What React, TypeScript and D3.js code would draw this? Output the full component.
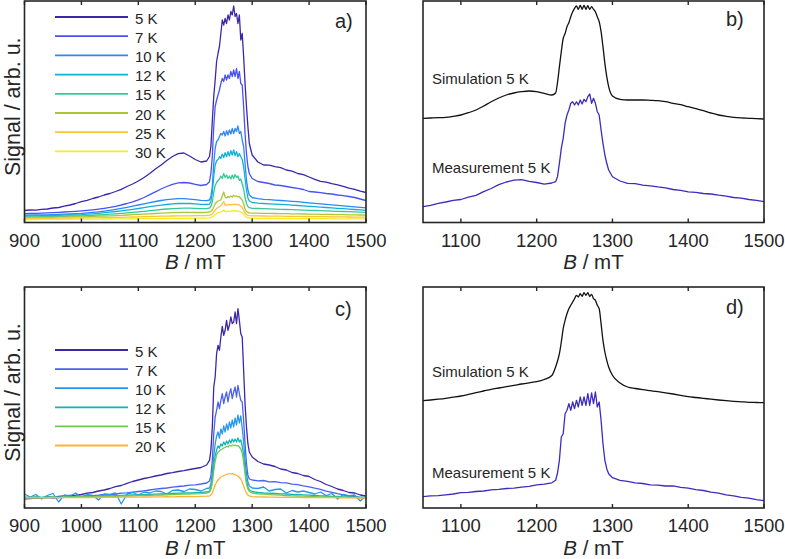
import React from 'react';
import * as d3 from 'd3';

const FONT = '"Liberation Sans", Arial, Helvetica, sans-serif';
const INK = '#262626';

// Magnetic field grids (mT)
const B_AC = [900,910,920,930,940,950,960,970,980,990,1000,1010,1020,1030,1040,1050,1060,1070,1080,1090,1100,1110,1120,1130,1140,1150,1160,1170,1180,1190,1200,1210,1220,
  1225,1227.5,1230,1232.5,1235,1237.5,1240,1242.5,1245,1247.5,1250,1252.5,1255,1257.5,1260,1262.5,1265,1267.5,1270,1272.5,1275,1277.5,1280,1282.5,1285,1287.5,1290,1292.5,1295,
  1300,1310,1320,1330,1340,1350,1360,1370,1380,1390,1400,1410,1420,1430,1440,1450,1460,1470,1480,1490,1500];
const B_BD = [1050,1060,1070,1080,1090,1100,1110,1120,1130,1140,1150,1160,1170,1180,1190,1200,1210,1220,
  1225,1227.5,1230,1232.5,1235,1237.5,1240,1242.5,1245,1247.5,1250,1252.5,1255,1257.5,1260,1262.5,1265,1267.5,1270,1272.5,1275,1277.5,1280,1282.5,1285,1287.5,1290,1292.5,1295,
  1300,1310,1320,1330,1340,1350,1360,1370,1380,1390,1400,1410,1420,1430,1440,1450,1460,1470,1480,1490,1500];

const TICKS_AC = [900, 1000, 1100, 1200, 1300, 1400, 1500];
const TICKS_BD = [1100, 1200, 1300, 1400, 1500];

// Panel a) temperature series
const LABELS_A = ['5 K', '7 K', '10 K', '12 K', '15 K', '20 K', '25 K', '30 K'];
const COLORS_A = ['#3e26a8', '#4852f4', '#2d87f7', '#11b1d6', '#37c897', '#abc739', '#fec338', '#f2ef1a'];

const A_5K = [12,12.5,12.3,13.2,13.5,14.5,15,16.3,17.5,19,20.8,22.2,24,25.5,27.5,29,31,33.2,36,38.5,41.5,45,49,53.5,57.5,62,66,68.8,69.5,66.5,63,60.5,61.5,
  66,76,102,126,142.5,161,169,176,189,202.5,197.5,204,199,207.5,202.5,211,207.5,216.5,206,209,199,207.5,182.5,189,166,139,116,96,79,
  67.5,60.5,57.5,57.3,55.8,54.8,52.5,51.3,49,47.8,45.5,43.2,41.2,40.3,38.8,37.6,36.2,34.4,33.2,31.4,30];
const A_7K = [8.8,9,9.2,9.4,9.6,9.9,10.2,10.5,10.8,11.2,11.6,12.1,12.7,13.4,14.2,15.1,16.2,17.5,19,20.7,22.6,25,27.8,30.7,33.5,36,38.2,39.6,40,39.5,38.2,37,38,
  40.8,49,66,96,116,122.5,127.5,132.5,139,144,141,147.5,142.5,147.5,144,151,146,152.5,146,154,144,151,139,137.5,116,89,69,56,49,
  44,41,40,39,37.5,37,36,35,34.2,33,31,30.5,29.8,29,28.5,27.5,26.8,26,25,23.5,22];
const A_10K = [7.3,7.4,7.5,7.6,7.7,7.9,8.1,8.3,8.5,8.8,9.1,9.6,10.1,10.7,11.4,12.2,13.1,14.1,15.2,16.3,17.5,18.7,19.9,21,22,22.8,23.4,23.8,23.8,23.4,22.8,22.1,21.8,
  22.5,26,36,59,74,81,82.5,86,89,87.5,91,86.5,91.8,87.5,92.5,88.5,94,89,94,91,96.5,89,91,82.5,76,59,42.5,32.5,27.5,
  25,23.8,23.2,22.8,22.4,22,21.6,21.2,20.8,20.2,19.6,19.1,18.6,18.1,17.6,17.1,16.6,16.1,15.6,15.1,14.6];
const A_12K = [6.5,6.6,6.7,6.8,6.9,7,7.1,7.3,7.5,7.7,7.9,8.3,8.7,9.2,9.8,10.4,11,11.7,12.4,13.2,14,14.9,15.8,16.6,17.3,18,18.6,19,19.2,19,18.7,18.2,18,
  18.3,21.3,29.5,46,57.5,61.8,63,65.8,64,68.5,65,69.8,65.8,70.8,66.5,71.8,67.5,72.5,67,70.8,65.8,69,65.8,63,55.8,44,32.5,24.5,21.5,
  20,19.4,19,18.7,18.4,18.1,17.8,17.4,17,16.6,16.2,15.8,15.4,15,14.6,14.2,13.8,13.4,13,12.6,12.2];
const A_15K = [5.5,5.6,5.7,5.8,5.9,6,6.1,6.2,6.3,6.5,6.6,6.9,7.2,7.5,7.9,8.3,8.7,9.1,9.6,10.1,10.6,11.2,11.8,12.4,13,13.5,13.9,14.2,14.4,14.4,14.2,13.9,13.8,
  14.5,16,20.5,30,37,40,42,43.5,46.5,44,49,45,47.5,44,46.5,43.5,47.5,44,48,45,46.5,42,43.5,38.5,33.5,25,19,16,14.8,
  14.2,14,13.8,13.6,13.4,13.2,13,12.8,12.6,12.4,12.2,12,11.8,11.6,11.4,11.2,11,10.8,10.6,10.4,10.2];
const A_20K = [4.8,4.9,5,5,5.1,5.2,5.3,5.4,5.5,5.6,5.7,5.9,6.1,6.3,6.5,6.7,6.9,7.2,7.5,7.8,8.1,8.4,8.7,9,9.3,9.6,9.8,10,10.1,10.1,10,10,10.2,
  10.5,11.2,12.5,15.5,18.5,20.5,21.5,22,22.5,26.5,30.5,25.5,24.5,26,25,26.5,25.5,27,26,26.5,25.5,26,24,22.5,18.5,13.5,11,10,9.6,
  9.4,9.3,9.2,9.1,9,8.9,8.8,8.7,8.6,8.5,8.4,8.3,8.2,8.1,8,7.9,7.8,7.7,7.6,7.5,7.4];
const A_25K = [4,4,4.1,4.1,4.2,4.2,4.3,4.3,4.4,4.4,4.5,4.6,4.7,4.8,4.9,5,5.1,5.2,5.3,5.5,5.6,5.8,6,6.1,6.3,6.4,6.5,6.6,6.7,6.7,6.8,6.8,7,
  7.3,7.8,8.8,10.5,12.5,14,15,15.8,16.8,18.5,21,17.5,17.2,18,17.8,17.5,18.2,17.8,18.4,18,17.8,17.5,16.4,15,12.5,9.5,8,7.2,6.9,
  6.7,6.6,6.5,6.4,6.4,6.3,6.2,6.2,6.1,6,6,5.9,5.8,5.8,5.7,5.6,5.6,5.5,5.4,5.4,5.3];
const A_30K = [3,3,3,3.1,3.1,3.1,3.2,3.2,3.2,3.3,3.3,3.3,3.4,3.4,3.5,3.5,3.6,3.6,3.7,3.7,3.8,3.8,3.9,3.9,4,4,4.1,4.1,4.2,4.2,4.3,4.3,4.4,
  4.6,5,5.6,6.8,8,9,9.6,10,10.5,11.2,12.5,10.8,11,11.4,11.2,11.6,11.4,11.8,11.5,11.6,11.3,11.2,10.6,9.8,8.4,6.6,5.4,4.8,4.5,
  4.3,4.2,4.2,4.1,4.1,4,4,4,3.9,3.9,3.9,3.8,3.8,3.8,3.7,3.7,3.7,3.6,3.6,3.6,3.5];
const SERIES_A = [A_5K, A_7K, A_10K, A_12K, A_15K, A_20K, A_25K, A_30K];

// Panel c) temperature series
const LABELS_C = ['5 K', '7 K', '10 K', '12 K', '15 K', '20 K'];
const COLORS_C = ['#3e26a8', '#4a62f0', '#2797eb', '#12b5b5', '#6cca50', '#fbb43a'];

const C_5K = [9.5,10,10.5,10.2,11,10.7,11.5,12,12.5,12.8,13.5,14.8,15.5,17,18,19.5,21.3,22.5,24.7,26.5,28,29.5,30.7,32,33,34.5,35.3,36.5,37.3,38.5,39.5,40.5,43,
  47.7,57.7,81,121,131,154.3,162.7,157.7,171,181.7,172.7,177.7,187.7,177.7,182.7,191,184.3,186,196,184.3,199.3,187.7,174.3,171,137.7,104,81,64.3,56,
  51,46.5,44,43,41.5,39,38,35.5,34.5,32.5,31.5,28.5,26.5,23.5,21.5,19,17.5,15.5,15,13,12];
const C_7K = [9,9.5,9.8,10,10.3,10,10.5,11,11.2,11,11.5,12,12.3,12.8,13.5,13.2,14,14.8,15.2,15.8,16.5,17.2,18,18.8,19.5,20,20.8,21.5,22,22.8,23.2,24,25,
  27,32,47.7,74.3,91,97.7,106,99.3,107.7,114.3,104.3,111,116,106,114.3,119.3,109.3,116,121,111,122.7,114.3,107.7,106,87.7,64.3,44.3,32.7,29,
  28,27.2,27.5,26.2,26.4,25.3,25.2,23.8,23.4,22.2,21.2,19.8,18.7,16.8,15.7,14.3,13.2,12,11.7,10.6,10.5];
const C_10K = [14,11,13.5,9,12.5,14.5,6,13,12,15,10.5,13.5,12.5,8,14,13.5,15,4,14,15.5,13,16,15,17,16.5,14,17.5,18,16.5,19,18.5,17,19.5,
  20,24,35,52,64,72,76,70,79,74,82,76,84,78,86,80,88,81,90,83,93,85,92,80,66,48,34,26,22,
  20,19.5,21,17,18.5,19,15,17.5,16,17,15.5,14,16,12.5,14.5,9,13.5,12,13,7,12.5];
const C_12K = [10.5,10.8,11,10.7,11,11.2,10.9,11.2,11.4,11.3,11.6,11.8,11.7,12,12.2,12.1,12.4,12.6,12.8,13,13.2,13.4,13.6,13.8,14,14.3,14.5,14.8,15,15.2,15.4,15.6,16,
  17,20,28,42,52,58,62,60,64,62,66,63,67,64,68,65,69,66,69,66,70,66,68,62,52,38,27,21,18,
  16.5,15.5,15,14.8,14.5,14.2,14,13.7,13.4,13.1,12.8,12.5,12.2,12,11.7,11.5,11.2,11,10.8,10.6,10.5];
const C_15K = [10.5,10.6,10.5,10.7,10.6,10.8,10.7,10.9,10.8,11,11,11.1,11.2,11.3,11.4,11.5,11.6,11.8,12,12.1,12.3,12.5,12.6,12.8,13,13.2,13.4,13.6,13.8,14,14.2,14.4,14.8,
  15.8,18.5,25,37,47,53,56,57,58.5,59,60,60.5,61.5,61,62.5,62,63,62.5,63,62,62.5,61,59,55,46,34,24,19,16.5,
  15,14.2,13.8,13.4,13.1,12.8,12.5,12.2,12,11.8,11.6,11.4,11.2,11.1,11,10.9,10.8,10.7,10.6,10.5,10.5];
const C_20K = [10,10.3,10.1,10.4,10.2,10.5,10.3,10.6,10.4,10.6,10.5,10.7,10.5,10.8,10.6,10.8,10.7,10.9,10.8,11,10.9,11.1,11,11.2,11.1,11.3,11.2,11.4,11.3,11.5,11.4,11.6,11.8,
  12,13.2,15,19,23,26,28,29.5,31,31.5,32.5,33,33.5,34,34.5,34,34.5,33.5,33.5,32.5,32,30.5,29,26,22,18,15,13,12,
  11.3,11.1,11,10.8,10.9,10.7,10.8,10.6,10.7,10.5,10.6,10.4,10.5,10.3,10.4,10.2,10.3,10.1,10.2,10,10.1];
const SERIES_C = [C_5K, C_7K, C_10K, C_12K, C_15K, C_20K];

// Panels b) and d): simulation vs measurement at 5 K
const B_SIM = [104.2,104.5,104.8,105.2,106.2,107.5,109.8,112.5,116.5,120.8,124.5,127.5,129.5,130.8,131.5,130.8,129.2,127.5,
  129.5,140,155.8,170.8,184,189,195.8,199.8,205.8,210.8,214.2,216.5,213.2,217.2,213.2,217.2,213.2,216.8,213.2,215.8,213.2,210.8,205.8,200.8,190.8,175.8,159.2,145.8,135.8,
  126.5,123.2,122.5,122.5,122.5,122.2,121.8,120.8,119.2,117.8,115.8,113.8,111.8,109.5,107.5,106.2,105.2,104.6,104.2,103.8,103.5];
const B_MEAS = [15.8,17.2,19.2,20.5,22.2,23,25.3,27.2,30.8,34,37.8,40.5,42.3,42.8,41.2,40,38.3,39.5,
  40.8,45.8,59.2,74.2,84.2,99.2,107.5,112.5,119.2,120.8,117.5,120.8,117.5,122.5,118.5,123.2,120.8,125.8,128.5,119.2,124.2,119.2,110.8,107.5,92.5,79.2,67.5,59.2,52.5,
  45.8,41.5,39.2,38.8,37.3,36.7,35.6,34.7,33,32.2,30.6,30.2,29,28.5,27.3,26.4,25,24.4,23,22.2,20.8];
const D_SIM = [107.3,108,108.8,109.7,110.8,112,113.6,115.3,117,118.7,120,121.3,122.6,124,125.2,126.3,128.5,132.5,
  141,147,154.3,166,179.3,187.7,194.3,199.3,202.7,206,209.3,212.7,211,214.3,211.7,215.3,212.7,215.3,211.7,213.7,209.3,207.7,202.7,199.3,184.3,167.7,156,147.7,141,
  132.7,125,121,119.5,118.3,117.3,116.3,115.2,114,112.7,111.3,110.5,109.7,108.8,108,107.3,106.7,106.2,105.7,105.5,105.3];
const D_MEAS = [11.3,12.2,12.4,13.2,14,15.3,15.6,16.5,17,18.2,18.6,19.5,19.8,20.9,21.6,23.2,23.8,25.2,
  27.7,35,47.7,71,74.3,94.3,97.7,104.3,97.7,106,99.3,107.7,101,111,102.7,111,102.7,114.3,102.7,115,104.3,116,101,106,87.7,64.3,47.7,39.3,34.3,
  30.3,27.7,26.7,25.2,24.5,23.2,22.9,22,22.2,20.6,19.9,18.3,17.5,15.8,14.9,13.1,12.2,10.6,9.9,8.3,7.3];

const MEAS_COLOR = '#3b2cc0';
const SIM_COLOR = '#111111';

type Box = { x0: number; x1: number; y0: number; y1: number };
const BOX_A: Box = { x0: 24.5, x1: 366, y0: 1, y1: 222.5 };
const BOX_B: Box = { x0: 423, x1: 764, y0: 1, y1: 222.5 };
const BOX_C: Box = { x0: 24.5, x1: 366, y0: 287, y1: 508 };
const BOX_D: Box = { x0: 423, x1: 764, y0: 287, y1: 508 };

function Frame({ box, xs, ticks, tag, tagX, tagBase, ylabel, id, children }:
  { box: Box; xs: d3.ScaleLinear<number, number>; ticks: number[]; tag: string; tagX: number; tagBase: number; ylabel: boolean; id: string; children?: React.ReactNode }) {
  const { x0, x1, y0, y1 } = box;
  return (
    <g>
      <defs>
        <clipPath id={id}>
          <rect x={x0} y={y0} width={x1 - x0} height={y1 - y0} />
        </clipPath>
      </defs>
      <g clipPath={`url(#${id})`}>{children}</g>
      <rect x={x0} y={y0} width={x1 - x0} height={y1 - y0} fill="none" stroke={INK} strokeWidth={1.6} />
      {ticks.map(t => (
        <g key={t}>
          <line x1={xs(t)} x2={xs(t)} y1={y1} y2={y1 - 4} stroke={INK} strokeWidth={1.4} />
          <line x1={xs(t)} x2={xs(t)} y1={y0} y2={y0 + 4} stroke={INK} strokeWidth={1.4} />
          <text x={xs(t)} y={y1 + 24} textAnchor="middle" fontSize={18.5} fill={INK}>{t}</text>
        </g>
      ))}
      <text x={(x0 + x1) / 2} y={y1 + 46.5} textAnchor="middle" fontSize={20.5} fill={INK}>
        <tspan fontStyle="italic">B</tspan> / mT
      </text>
      <text x={tagX} y={tagBase} fontSize={20} fill={INK}>{tag}</text>
      {ylabel && (
        <text transform={`translate(19.5, ${(y0 + y1) / 2 - 5}) rotate(-90)`} textAnchor="middle" fontSize={21.5} fill={INK}>
          Signal / arb. u.
        </text>
      )}
    </g>
  );
}

function pathFor(B: number[], vals: number[], xs: d3.ScaleLinear<number, number>, ys: d3.ScaleLinear<number, number>, smooth = false) {
  const pts: [number, number][] = vals.map((v, i) => [B[i], v]);
  const gen = d3.line<[number, number]>().x(d => xs(d[0])).y(d => ys(d[1]));
  if (smooth) gen.curve(d3.curveMonotoneX);
  return gen(pts) || '';
}

export default function App() {
  const xa = d3.scaleLinear().domain([900, 1500]).range([BOX_A.x0, BOX_A.x1]);
  const ya = d3.scaleLinear().domain([0, BOX_A.y1 - BOX_A.y0]).range([BOX_A.y1, BOX_A.y0]);
  const xc = d3.scaleLinear().domain([900, 1500]).range([BOX_C.x0, BOX_C.x1]);
  const yc = d3.scaleLinear().domain([0, BOX_C.y1 - BOX_C.y0]).range([BOX_C.y1, BOX_C.y0]);
  const xb = d3.scaleLinear().domain([1050, 1500]).range([BOX_B.x0, BOX_B.x1]);
  const yb = d3.scaleLinear().domain([0, BOX_B.y1 - BOX_B.y0]).range([BOX_B.y1, BOX_B.y0]);
  const xd = d3.scaleLinear().domain([1050, 1500]).range([BOX_D.x0, BOX_D.x1]);
  const yd = d3.scaleLinear().domain([0, BOX_D.y1 - BOX_D.y0]).range([BOX_D.y1, BOX_D.y0]);

  return (
    <svg width={785} height={559} viewBox="0 0 785 559"
      style={{ position: 'absolute', left: 0, top: 0, display: 'block', background: '#fff' }}
      fontFamily={FONT}>
      <rect x={0} y={0} width={785} height={559} fill="#fff" />

      {/* a) */}
      <Frame box={BOX_A} xs={xa} ticks={TICKS_AC} tag="a)" tagX={335} tagBase={28} ylabel id="clipA">
        {SERIES_A.map((s, i) => (
          <path key={i} d={pathFor(B_AC, s, xa, ya)} fill="none" stroke={COLORS_A[i]} strokeWidth={1.3} strokeLinejoin="round" />
        ))}
      </Frame>
      {LABELS_A.map((l, i) => (
        <g key={l}>
          <line x1={55} x2={128} y1={17 + i * 19.2} y2={17 + i * 19.2} stroke={COLORS_A[i]} strokeWidth={1.8} />
          <text x={135} y={23.5 + i * 19.2} fontSize={15} fill={INK}>{l}</text>
        </g>
      ))}

      {/* b) */}
      <Frame box={BOX_B} xs={xb} ticks={TICKS_BD} tag="b)" tagX={726} tagBase={26} ylabel={false} id="clipB">
        <path d={pathFor(B_BD, B_SIM, xb, yb, true)} fill="none" stroke={SIM_COLOR} strokeWidth={1.3} />
        <path d={pathFor(B_BD, B_MEAS, xb, yb)} fill="none" stroke={MEAS_COLOR} strokeWidth={1.3} strokeLinejoin="round" />
      </Frame>
      <text x={432} y={84} fontSize={15} fill={INK}>Simulation 5 K</text>
      <text x={432} y={173} fontSize={15} fill={INK}>Measurement 5 K</text>

      {/* c) */}
      <Frame box={BOX_C} xs={xc} ticks={TICKS_AC} tag="c)" tagX={335} tagBase={316} ylabel id="clipC">
        {SERIES_C.map((s, i) => (
          <path key={i} d={pathFor(B_AC, s, xc, yc)} fill="none" stroke={COLORS_C[i]} strokeWidth={1.3} strokeLinejoin="round" />
        ))}
      </Frame>
      {LABELS_C.map((l, i) => (
        <g key={l}>
          <line x1={55} x2={128} y1={350 + i * 19.1} y2={350 + i * 19.1} stroke={COLORS_C[i]} strokeWidth={1.8} />
          <text x={135} y={356.5 + i * 19.1} fontSize={15} fill={INK}>{l}</text>
        </g>
      ))}

      {/* d) */}
      <Frame box={BOX_D} xs={xd} ticks={TICKS_BD} tag="d)" tagX={726} tagBase={314} ylabel={false} id="clipD">
        <path d={pathFor(B_BD, D_SIM, xd, yd, true)} fill="none" stroke={SIM_COLOR} strokeWidth={1.3} />
        <path d={pathFor(B_BD, D_MEAS, xd, yd)} fill="none" stroke={MEAS_COLOR} strokeWidth={1.3} strokeLinejoin="round" />
      </Frame>
      <text x={432} y={376.5} fontSize={15} fill={INK}>Simulation 5 K</text>
      <text x={432} y={478} fontSize={15} fill={INK}>Measurement 5 K</text>
    </svg>
  );
}
